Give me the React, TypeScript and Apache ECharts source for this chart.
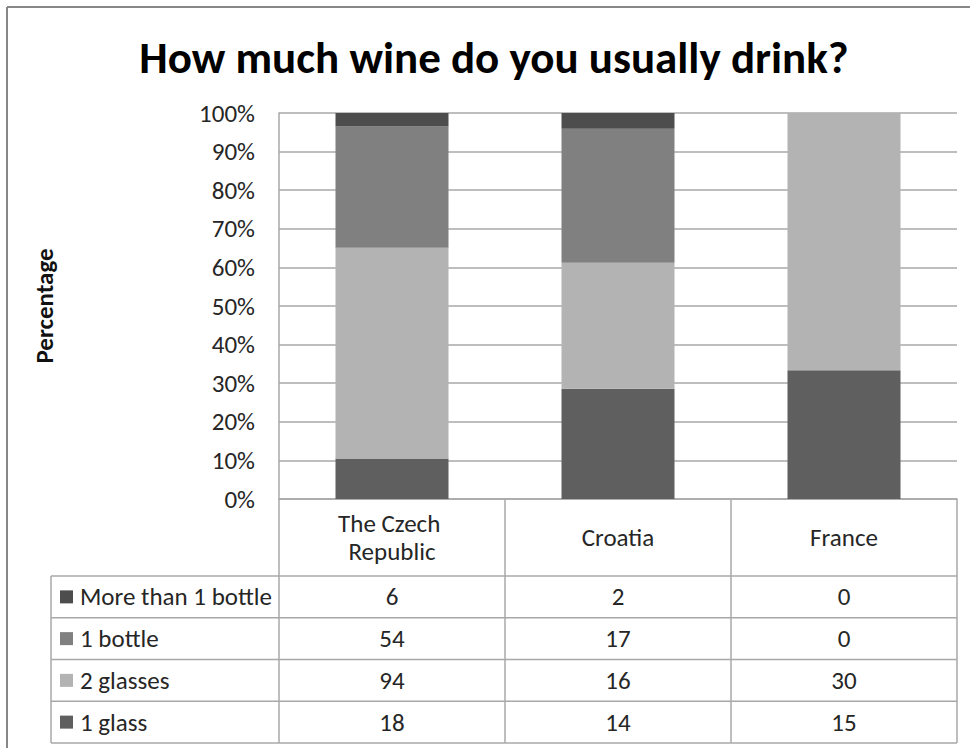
import React, { useEffect, useRef } from "react";
import * as echarts from "echarts";

const categories = ["The Czech Republic", "Croatia", "France"];
const seriesNames = ["1 glass", "2 glasses", "1 bottle", "More than 1 bottle"];
const oneGlass = [18, 14, 15];
const twoGlasses = [94, 16, 30];
const oneBottle = [54, 17, 0];
const moreThanOneBottle = [6, 2, 0];
const seriesColors = ["#5f5f5f", "#b3b3b3", "#808080", "#4d4d4d"];
const titleText = "How much wine do you usually drink?";
const yAxisTitle = "Percentage";

const FONT = "Carlito, Lato, 'Noto Sans', sans-serif";
const TEXT = "#262626";
const LINE = "#a8a8a8";
const FS = 25;

export default function App() {
  const ref = useRef<HTMLDivElement>(null);
  useEffect(() => {
    document.body.style.margin = "0";
    const el = ref.current!;
    const chart = echarts.init(el, null, { renderer: "svg" });
    const raw = [oneGlass, twoGlasses, oneBottle, moreThanOneBottle];
    const totals = categories.map((_, i) => raw.reduce((s, arr) => s + arr[i], 0));
    const gridLeft = 279, gridRight = 13, gridTop = 113, gridBottom = 249;
    const W = 970, H = 748;
    chart.setOption({
      animation: false,
      textStyle: { fontFamily: FONT },
      grid: { left: gridLeft, right: gridRight, top: gridTop, bottom: gridBottom, containLabel: false },
      xAxis: {
        type: "category",
        data: categories,
        axisLine: { show: true, lineStyle: { color: LINE, width: 1.5 } },
        axisTick: { show: false },
        axisLabel: {
          interval: 0,
          hideOverlap: false,
          fontFamily: FONT,
          fontSize: FS,
          color: TEXT,
          margin: 38,
          verticalAlign: "middle",
          width: 140,
          overflow: "break",
          lineHeight: 28,
        },
      },
      yAxis: {
        type: "value",
        min: 0,
        max: 100,
        interval: 10,
        name: yAxisTitle,
        nameLocation: "middle",
        nameGap: 222,
        nameTextStyle: { fontFamily: FONT, fontSize: 25, fontWeight: "bold", color: "#111" },
        axisLine: { show: true, lineStyle: { color: LINE, width: 1.5 } },
        axisTick: { show: false },
        axisLabel: { formatter: "{value}%", fontFamily: FONT, fontSize: FS, color: TEXT, margin: 24 },
        splitLine: { lineStyle: { color: LINE, width: 1.5 } },
      },
      series: seriesNames.map((name, k) => ({
        name,
        type: "bar",
        stack: "total",
        barWidth: "50%",
        itemStyle: { color: seriesColors[k] },
        data: raw[k].map((v, i) => (v / totals[i]) * 100),
      })),
    });

    const centers = categories.map((c) => chart.convertToPixel({ xAxisIndex: 0 }, c) as number);
    const colW = (W - gridRight - gridLeft) / categories.length;
    const xAxisY = H - gridBottom;
    const tableTop = 576;
    const tableBottom = 743;
    const tableLeft = 51;
    const rowH = (tableBottom - tableTop) / seriesNames.length;
    const right = W - gridRight;
    const elements: any[] = [];
    elements.push({ type: "line", shape: { x1: 7, y1: 7, x2: W, y2: 7 }, style: { stroke: "#878787", lineWidth: 2 }, silent: true });
    elements.push({ type: "line", shape: { x1: 7, y1: 7, x2: 7, y2: H }, style: { stroke: "#878787", lineWidth: 2 }, silent: true });
    elements.push({
      type: "text",
      x: 494,
      y: 57,
      style: { text: titleText, fontFamily: FONT, fontSize: 45, fontWeight: "bold", fill: "#000", align: "center", verticalAlign: "middle" },
    });
    const hl = (y: number, x1: number, x2: number) =>
      elements.push({ type: "line", shape: { x1, y1: y, x2, y2: y }, style: { stroke: LINE, lineWidth: 1.5 }, silent: true });
    const vl = (x: number, y1: number, y2: number) =>
      elements.push({ type: "line", shape: { x1: x, y1, x2: x, y2 }, style: { stroke: LINE, lineWidth: 1.5 }, silent: true });
    for (let r = 0; r <= seriesNames.length; r++) hl(tableTop + r * rowH, tableLeft, right);
    vl(tableLeft, tableTop, tableBottom);
    vl(gridLeft, xAxisY, tableBottom);
    centers.forEach((c) => vl(c + colW / 2, xAxisY, tableBottom));
    const order = [3, 2, 1, 0];
    order.forEach((k, r) => {
      const cy = tableTop + rowH * (r + 0.5);
      elements.push({
        type: "rect",
        shape: { x: 60, y: cy - 6.5, width: 13, height: 13 },
        style: { fill: seriesColors[k] },
      });
      elements.push({
        type: "text",
        x: 80,
        y: cy,
        style: { text: seriesNames[k], fontFamily: FONT, fontSize: FS, fill: TEXT, align: "left", verticalAlign: "middle" },
      });
      centers.forEach((c, i) => {
        elements.push({
          type: "text",
          x: c,
          y: cy,
          style: { text: String(raw[k][i]), fontFamily: FONT, fontSize: FS, fill: TEXT, align: "center", verticalAlign: "middle" },
        });
      });
    });
    chart.setOption({ graphic: { elements } });
    return () => chart.dispose();
  }, []);
  return <div ref={ref} style={{ width: 970, height: 748 }} />;
}
